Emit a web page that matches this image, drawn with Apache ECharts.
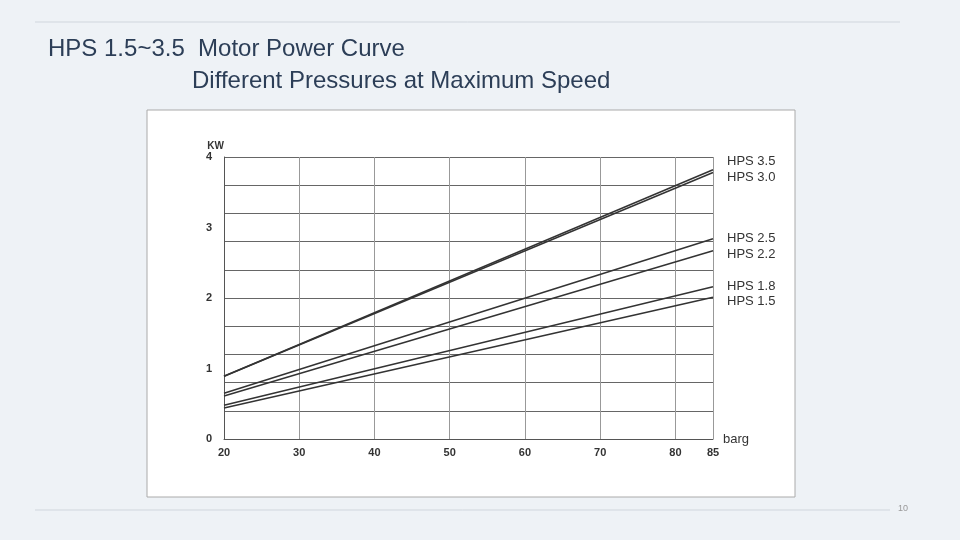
<!DOCTYPE html>
<html>
<head>
<meta charset="utf-8">
<script src="https://cdn.jsdelivr.net/npm/echarts@6/dist/echarts.min.js"></script>
<style>html,body{margin:0;padding:0;background:#eef2f6}#c{width:960px;height:540px}</style>
</head>
<body>
<div id="c"></div>
<script>
// pressure (barg) at the two ends of each line
var pressures = [20, 85];
var hps35 = [0.89, 3.82];
var hps30 = [0.89, 3.78];
var hps25 = [0.65, 2.84];
var hps22 = [0.61, 2.67];
var hps18 = [0.48, 2.16];
var hps15 = [0.44, 2.01];
var names = ['HPS 3.5', 'HPS 3.0', 'HPS 2.5', 'HPS 2.2', 'HPS 1.8', 'HPS 1.5'];
var labelShift = [-8, 5, 0, 4, 0, 4];

var chart = echarts.init(document.getElementById('c'));
var all = [hps35, hps30, hps25, hps22, hps18, hps15];
var series = all.map(function (arr, i) {
    return {
        name: names[i],
        type: 'line',
        symbol: 'none',
        silent: true,
        lineStyle: {color: '#333', width: 1.5},
        data: pressures.map(function (p, j) { return [p, arr[j]]; }),
        endLabel: {show: true, formatter: names[i], color: '#333', fontSize: 13,
                   fontFamily: 'Liberation Sans', offset: [6, labelShift[i]]}
    };
});

chart.setOption({
    backgroundColor: '#eef2f6',
    animation: false,
    graphic: [
        {type: 'line', shape: {x1: 35, y1: 22, x2: 900, y2: 22}, style: {stroke: '#d0d6dd', lineWidth: 1}},
        {type: 'line', shape: {x1: 35, y1: 510, x2: 890, y2: 510}, style: {stroke: '#d0d6dd', lineWidth: 1}},
        {type: 'text', left: 898, top: 504, style: {text: '10', fill: '#999', fontSize: 9}},
        {type: 'text', left: 48, top: 37, style: {text: 'HPS 1.5~3.5  Motor Power Curve', fill: '#2c3e57', fontSize: 24, fontFamily: 'Liberation Sans'}},
        {type: 'text', left: 192, top: 69, style: {text: 'Different Pressures at Maximum Speed', fill: '#2c3e57', fontSize: 24, fontFamily: 'Liberation Sans'}},
        {type: 'rect', z: -1, shape: {x: 147, y: 110, width: 648, height: 387}, style: {fill: '#fff', stroke: '#aaa', lineWidth: 1}}
    ],
    grid: {left: 224, right: 247, top: 157, bottom: 101},
    xAxis: {
        type: 'value', min: 20, max: 85, interval: 10,
        name: 'barg', nameLocation: 'end', nameGap: 10,
        nameTextStyle: {color: '#333', fontSize: 13, verticalAlign: 'middle'},
        axisLine: {lineStyle: {color: '#555'}},
        axisTick: {show: false},
        axisLabel: {color: '#333', fontSize: 11, fontWeight: 'bold', showMaxLabel: true},
        splitLine: {show: true, lineStyle: {color: '#999'}}
    },
    yAxis: [{
        type: 'value', min: 0, max: 4, interval: 1,
        name: 'KW', nameGap: 4,
        nameTextStyle: {color: '#333', fontSize: 10, fontWeight: 'bold', align: 'right'},
        axisLine: {show: true, lineStyle: {color: '#555'}},
        axisTick: {show: false},
        axisLabel: {color: '#333', fontSize: 11, fontWeight: 'bold', margin: 12},
        splitLine: {show: false}
    }, {
        type: 'value', min: 0, max: 4, interval: 0.4, position: 'left',
        axisLine: {show: false}, axisTick: {show: false}, axisLabel: {show: false},
        splitLine: {show: true, lineStyle: {color: '#666'}}
    }],
    series: series
});
</script>
</body>
</html>
